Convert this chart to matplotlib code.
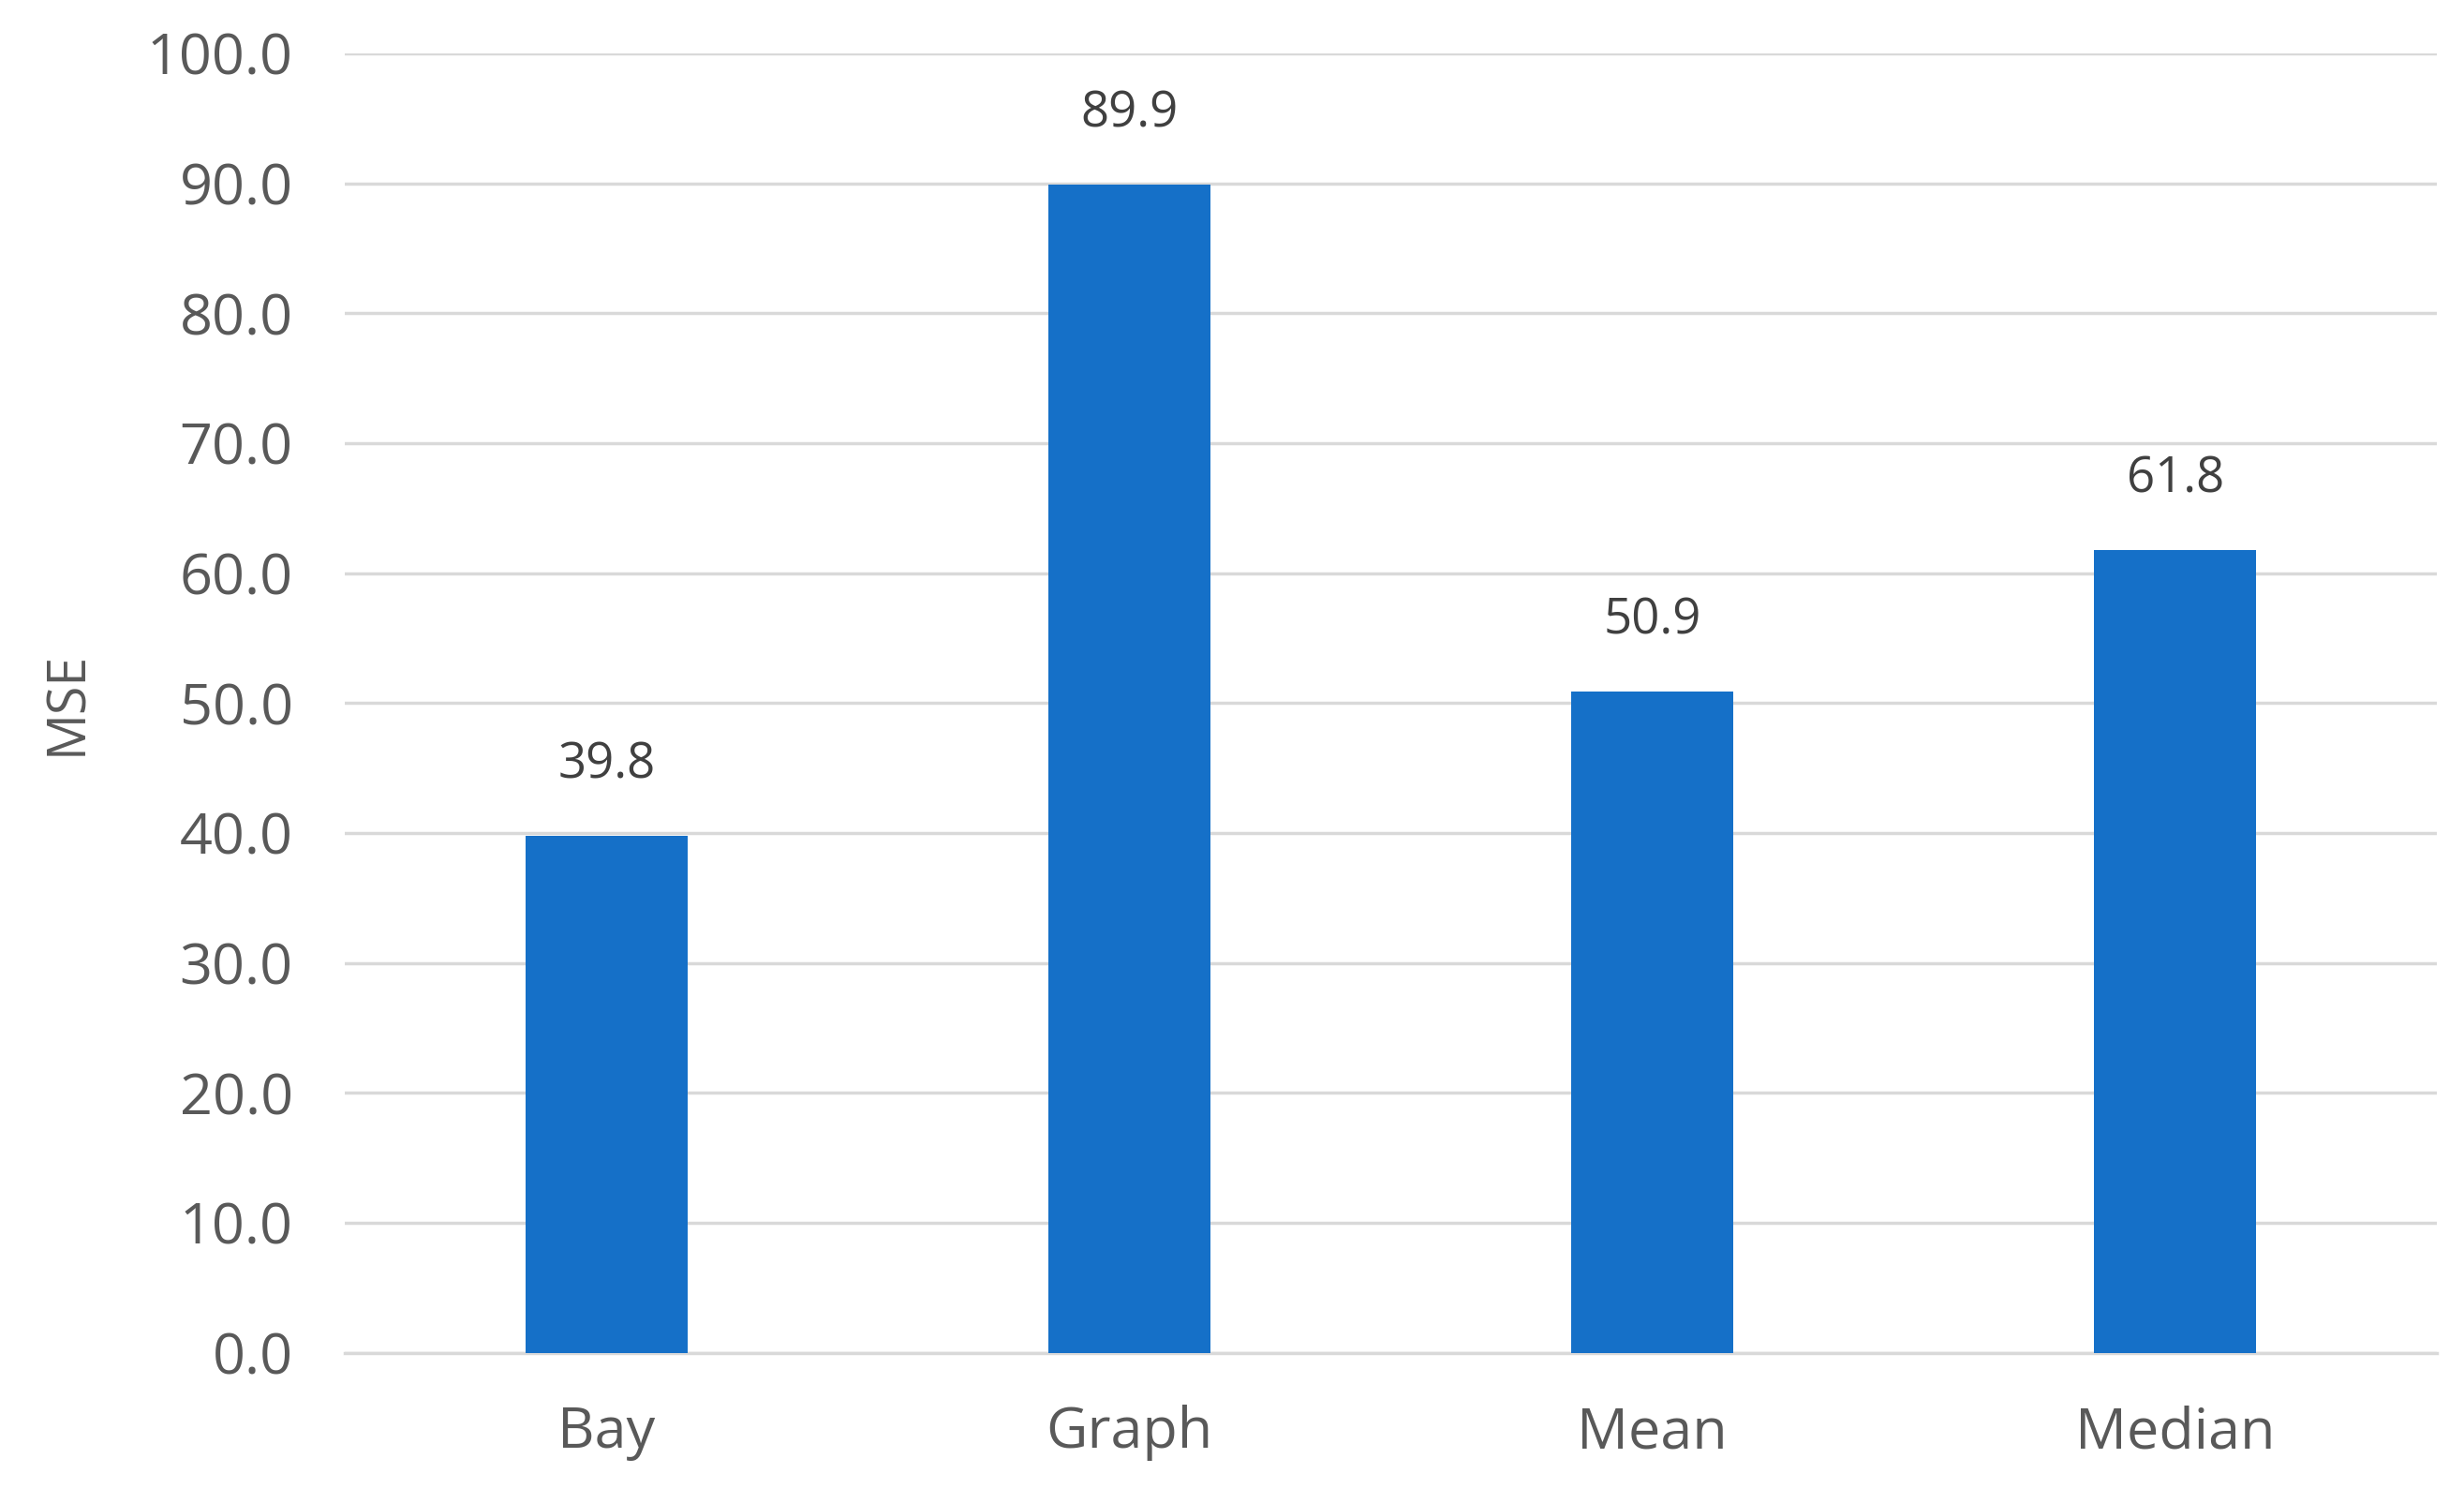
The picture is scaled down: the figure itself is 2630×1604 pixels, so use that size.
import matplotlib
matplotlib.use("Agg")
import matplotlib.pyplot as plt

categories = ["Bay", "Graph", "Mean", "Median"]
values = [39.8, 89.9, 50.9, 61.8]
yticks = [0, 10, 20, 30, 40, 50, 60, 70, 80, 90, 100]

plt.rcParams['font.family'] = ['Open Sans', 'DejaVu Sans']
fig = plt.figure(figsize=(26.3, 16.04), dpi=100)
ax = fig.add_axes([0.140, 0.100, 0.849, 0.8645])
x = range(len(categories))
ax.bar(x, values, width=0.31, color="#1570C8", zorder=3)
for xi, v in zip(x, values):
    ax.text(xi, v + 3.5, f"{v:.1f}", ha="center", va="bottom", fontsize=38, color="#404040")
ax.set_xlim(-0.5, 3.5)
ax.set_ylim(0, 100)
ax.set_yticks(yticks)
ax.set_yticklabels([f"{t:.1f}" for t in yticks])
ax.set_xticks(list(x))
ax.set_xticklabels(categories)
ax.grid(axis="y", color="#D9D9D9", linewidth=2.5, zorder=0)
for s in ["top", "right", "left"]:
    ax.spines[s].set_visible(False)
ax.spines["bottom"].set_color("#D9D9D9")
ax.spines["bottom"].set_linewidth(2.5)
ax.tick_params(axis="both", length=0, labelsize=44, colors="#595959")
ax.tick_params(axis="x", pad=40)
ax.tick_params(axis="y", pad=40)
ax.set_ylabel("MSE", fontsize=40, color="#595959", labelpad=40)
fig.savefig("out.png", dpi=100)
